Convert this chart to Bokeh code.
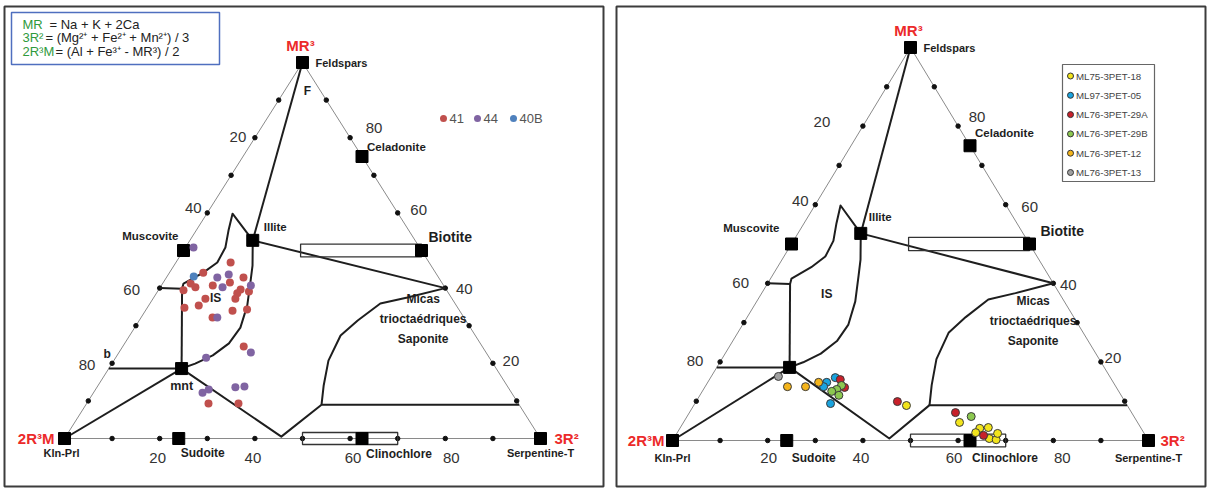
import numpy as np
from bokeh.plotting import figure
from bokeh.models import Range1d
from bokeh.embed import file_html
from bokeh.resources import INLINE
from bokeh.core.properties import value

FONT = value("Liberation Sans")

# ---------------- data: ternary compositions in % (MR3, 3R2); 2R3M = 100 - MR3 - 3R2
mineral_names = ["Feldspars", "Celadonite", "Muscovite", "Illite", "Biotite",
                 "mnt", "Kln-Prl", "Sudoite", "Clinochlore", "Serpentine-T"]
mineral_mr3 = [100, 75, 50, 52.7, 50, 18.6, 0, 0, 0, 0]
mineral_3r2 = [0, 25, 0, 13.2, 50, 15.3, 0, 24, 62.5, 100]

edge_ticks = [10, 20, 30, 40, 50, 60, 70, 80, 90]
edge_labels = [20, 40, 60, 80]

# field boundaries
f_line_mr3 = [100, 52.7]
f_line_3r2 = [0, 13.2]
illite_tie_mr3 = [52.7, 40]
illite_tie_3r2 = [13.2, 60]
is_top_mr3 = [40, 39.8, 41.2, 44.1, 46.8, 50.8, 55.3, 59.8, 52.7]
is_top_3r2 = [0, 4.8, 4.4, 7.1, 8.7, 8.4, 6.8, 5.4, 13.2]
is_side_mr3 = [52.7, 46.0, 42.0, 35.4, 29.5, 25.3, 22.1, 19.9, 18.6]
is_side_3r2 = [13.2, 16.5, 18.1, 20.7, 22.2, 21.9, 20.1, 17.5, 15.3]
mnt_vert_mr3 = [39.8, 18.6]
mnt_vert_3r2 = [4.8, 15.3]
mnt_b_mr3 = [18.6, 18.6]
mnt_b_3r2 = [15.3, 0]
mnt_kln_mr3 = [18.6, 0]
mnt_kln_3r2 = [15.3, 0]
chlorite_mr3 = [18.6, 0.5, 9.0, 9.0]
chlorite_3r2 = [15.3, 45.3, 49.5, 91.0]
micas_mr3 = [9.0, 14.1, 20.7, 27.4, 31.4, 35.9, 37.5, 40]
micas_3r2 = [49.5, 47.4, 45.1, 44.3, 45.9, 48.4, 53.3, 60]

# composition boxes (MR3 centre, 3R2 from, 3R2 to, MR3 half-height)
box_mr3 = [50, 0]
box_3r2_from = [24.6, 50]
box_3r2_to = [50, 70]
box_half = [1.7, 1.6]

# left diagram samples
s41_mr3 = [46.8, 44.1, 42.8, 41.2, 40.2, 40.7, 41.5, 39.4, 39.6, 38.6, 39.1,
           37.2, 37.2, 34.8, 35.4, 34.0, 34.3, 32.2, 24.5, 9.3, 9.3]
s41_3r2 = [11.5, 7.1, 16.2, 5.9, 7.4, 10.8, 14.0, 5.3, 17.2, 17.0, 19.2,
           11.0, 17.3, 7.8, 10.5, 18.3, 21.2, 15.0, 25.4, 25.6, 31.9]
s44_mr3 = [50.8, 42.8, 43.6, 40.2, 40.7, 32.2, 22.9, 21.5, 12.2, 13.0, 13.6, 13.8]
s44_3r2 = [1.7, 10.7, 12.7, 13.1, 18.8, 16.0, 27.7, 19.0, 22.9, 23.8, 29.1, 30.9]
s40b_mr3 = [43.1]
s40b_3r2 = [5.6]

# right diagram samples
ml75_18_mr3 = [8.9, 4.6, 3.1, 3.3, 2.0, 0.5, 0.2, 1.8]
ml75_18_3r2 = [44.7, 58.0, 63.0, 64.7, 62.7, 66.3, 67.9, 67.4]
ml97_05_mr3 = [14.8, 13.7, 16.0, 9.4]
ml97_05_3r2 = [25.0, 24.9, 26.2, 28.5]
ml76_29a_mr3 = [15.5, 13.5, 9.9, 7.1, 1.3]
ml76_29a_3r2 = [27.5, 29.4, 42.3, 55.9, 64.7]
ml76_29b_mr3 = [14.0, 13.0, 12.5, 11.5, 6.1]
ml76_29b_3r2 = [28.5, 28.0, 27.2, 29.2, 59.7]
ml76_12_mr3 = [13.7, 13.7, 14.8]
ml76_12_3r2 = [17.3, 21.1, 23.3]
ml76_13_mr3 = [16.3]
ml76_13_3r2 = [14.1]

left_names = ["41", "44", "40B"]
left_colors = ["#c0504d", "#8064a2", "#4f81bd"]
right_names = ["ML75-3PET-18", "ML97-3PET-05", "ML76-3PET-29A",
               "ML76-3PET-29B", "ML76-3PET-12", "ML76-3PET-13"]
right_colors = ["#f2e41c", "#1aa3de", "#c8202a", "#8cc850", "#f4b41a", "#a0a0a0"]

# ---------------- layout
LEFT = dict(x0=64, y0=438, W=476, H=376)
RIGHT = dict(x0=672, y0=440, W=476, H=393)

p = figure(width=1208, height=488, x_range=Range1d(0, 1208), y_range=Range1d(488, 0),
           output_backend="svg", toolbar_location=None, min_border=0,
           x_axis_location=None, y_axis_location=None)
p.grid.visible = False
p.outline_line_color = None
p.background_fill_color = "white"
p.border_fill_color = "white"

INK = "#1e1e1e"
RED = "#ec2a2a"


def tern(pn, mr3, r32):
    m = np.asarray(mr3, dtype=float) / 100.0
    r = np.asarray(r32, dtype=float) / 100.0
    return pn["x0"] + pn["W"] * (r + m / 2.0), pn["y0"] - pn["H"] * m


def line(pn, mr3, r32, width=2.0, color=INK):
    x, y = tern(pn, mr3, r32)
    p.line(list(x), list(y), line_width=width, line_color=color, line_join="round")


def label(pn, mr3, r32, text, dx=0, dy=0, size="12px", bold=True, color=INK, align="left"):
    x, y = tern(pn, [mr3], [r32])
    p.text(x=list(x), y=list(y), text=[text], x_offset=dx, y_offset=dy,
           text_font=FONT, text_font_size=size,
           text_font_style="bold" if bold else "normal",
           text_color=color, text_align=align, text_baseline="middle")


def idx(name):
    return mineral_names.index(name)


def diagram(pn, tick_off, lab_off, extra, samples, outline):
    # triangle edges
    line(pn, [100, 0, 0, 100], [0, 0, 100, 0], width=1.0, color="#8a8a8a")
    # tick dots
    t = np.array(edge_ticks, dtype=float)
    for mm, rr in [(100 - t, 0 * t), (t, 100 - t), (0 * t, t)]:
        x, y = tern(pn, mm, rr)
        p.scatter(list(x), list(y), size=4.5, color="#111111")
    # field boundaries
    for mm, rr in [(f_line_mr3, f_line_3r2), (illite_tie_mr3, illite_tie_3r2),
                   (is_top_mr3, is_top_3r2), (is_side_mr3, is_side_3r2),
                   (mnt_vert_mr3, mnt_vert_3r2), (mnt_b_mr3, mnt_b_3r2),
                   (mnt_kln_mr3, mnt_kln_3r2), (chlorite_mr3, chlorite_3r2),
                   (micas_mr3, micas_3r2)]:
        line(pn, mm, rr)
    # composition boxes
    for bm, b0, b1, bh in zip(box_mr3, box_3r2_from, box_3r2_to, box_half):
        xl, _ = tern(pn, [bm], [b0])
        xr, _ = tern(pn, [bm], [b1])
        _, yt = tern(pn, [bm + bh], [0])
        _, yb = tern(pn, [bm - bh], [0])
        p.quad(left=list(xl), right=list(xr), top=list(yt), bottom=list(yb),
               fill_color=None, line_color="#333333", line_width=1.3)
    # mineral squares
    x, y = tern(pn, mineral_mr3, mineral_3r2)
    p.scatter(list(x), list(y), marker="square", size=12, color="#000000")
    # samples
    for (mm, rr), col in samples:
        x, y = tern(pn, mm, rr)
        if outline:
            p.scatter(list(x), list(y), size=8, fill_color=col, line_color="#3a3a3a", line_width=1)
        else:
            p.scatter(list(x), list(y), size=8, fill_color=col, line_color=None)
    # tick labels
    for i, v in enumerate(edge_labels):
        dx, dy = tick_off["left"][i]
        label(pn, 100 - v, 0, str(v), dx, dy, size="15px", bold=False, color="#333333", align="center")
        dx, dy = tick_off["right"][i]
        label(pn, v, 100 - v, str(v), dx, dy, size="15px", bold=False, color="#333333", align="center")
        dx, dy = tick_off["bottom"][i]
        label(pn, 0, v, str(v), dx, dy, size="15px", bold=False, color="#333333", align="center")
    # vertex / mineral labels
    for name, (dx, dy, size, align) in lab_off.items():
        i = idx(name)
        label(pn, mineral_mr3[i], mineral_3r2[i], name, dx, dy, size=size, align=align)
    i = idx("Feldspars")
    label(pn, mineral_mr3[i], mineral_3r2[i], "MR³", extra["MR3"][0], extra["MR3"][1], size="15px", color=RED, align="center")
    i = idx("Kln-Prl")
    label(pn, mineral_mr3[i], mineral_3r2[i], "2R³M", extra["2R3M"][0], extra["2R3M"][1], size="15px", color=RED, align="right")
    i = idx("Serpentine-T")
    label(pn, mineral_mr3[i], mineral_3r2[i], "3R²", extra["3R2"][0], extra["3R2"][1], size="15px", color=RED, align="left")
    label(pn, extra["IS"][0], extra["IS"][1], "IS", 0, 0, size="12px", align="center")
    mm, rr = extra["micas"]
    for k, txt in enumerate(["Micas", "trioctaédriques", "Saponite"]):
        label(pn, mm, rr, txt, 0, -20 + 20 * k, size="12px", align="center")


# panel frames
p.quad(left=[4], right=[603], top=[6], bottom=[486], fill_color=None, line_color="#3c3c3c", line_width=2)
p.quad(left=[616], right=[1205], top=[6], bottom=[486], fill_color=None, line_color="#3c3c3c", line_width=2)

left_samples = [((s41_mr3, s41_3r2), left_colors[0]), ((s44_mr3, s44_3r2), left_colors[1]),
                ((s40b_mr3, s40b_3r2), left_colors[2])]
right_samples = [((ml75_18_mr3, ml75_18_3r2), right_colors[0]),
                 ((ml97_05_mr3, ml97_05_3r2), right_colors[1]),
                 ((ml76_29a_mr3, ml76_29a_3r2), right_colors[2]),
                 ((ml76_29b_mr3, ml76_29b_3r2), right_colors[3]),
                 ((ml76_12_mr3, ml76_12_3r2), right_colors[4]),
                 ((ml76_13_mr3, ml76_13_3r2), right_colors[5])]

left_lab = {"Feldspars": (13, 0, "11px", "left"), "Celadonite": (5, -10, "11.5px", "left"),
            "Muscovite": (-5, -15, "11.5px", "right"), "Illite": (11, -13, "11.5px", "left"),
            "Biotite": (7, -14, "14px", "left"), "Kln-Prl": (-3, 14, "11px", "center"),
            "Sudoite": (2, 14, "12px", "left"), "Clinochlore": (4, 15, "12px", "left"),
            "Serpentine-T": (0, 14, "11px", "center")}
left_ticks = {"left": [(-17, -1), (-14, -5), (-28, 2), (-25, 2)],
              "right": [(18, -2), (19, 1), (21, -3), (24, -10)],
              "bottom": [(-2, 19), (-2, 19), (3, 19), (6, 19)]}
left_extra = {"MR3": (-2, -17), "2R3M": (-10, 0), "3R2": (14, 0),
              "IS": (37.5, 13.0), "micas": (31.9, 59.4)}
diagram(LEFT, left_ticks, left_lab, left_extra, left_samples, outline=False)
label(LEFT, 100, 0, "F", 5, 28, size="12px", align="center")
label(LEFT, 20, 0, "b", -5, -9, size="12px", align="center")
label(LEFT, mineral_mr3[idx("mnt")], mineral_3r2[idx("mnt")], "mnt", 0, 17, size="12.5px", align="center")

right_lab = {"Feldspars": (13, 0, "11px", "left"), "Celadonite": (5, -13, "11.5px", "left"),
             "Muscovite": (-12, -16, "11.5px", "right"), "Illite": (8, -16, "11.5px", "left"),
             "Biotite": (11, -13, "14px", "left"), "Kln-Prl": (0, 17, "11px", "center"),
             "Sudoite": (5, 17, "12px", "left"), "Clinochlore": (2, 17, "12px", "left"),
             "Serpentine-T": (0, 17, "11px", "center")}
right_ticks = {"left": [(-41, -4), (-15, -4), (-27, 0), (-25, -1)],
               "right": [(12, -4), (15, 2), (24, 2), (19, -9)],
               "bottom": [(1, 17), (-2, 17), (-4, 17), (9, 17)]}
right_extra = {"MR3": (-2, -17), "2R3M": (-8, 0), "3R2": (12, 0),
               "IS": (37.4, 13.7), "micas": (30.5, 60.5)}
diagram(RIGHT, right_ticks, right_lab, right_extra, right_samples, outline=True)

# formula box (left panel)
p.quad(left=[11], right=[219], top=[12], bottom=[64], fill_color=None, line_color="#4f6fbf", line_width=1.5)
GREEN = "#2f9a3c"
formula_rows = [("MR", "= Na + K + 2Ca", 49), ("3R²", "= (Mg²⁺ + Fe²⁺ + Mn²⁺) / 3", 45),
                ("2R³M", "= (Al + Fe³⁺ - MR³) / 2", 55)]
for k, (g, rest, xr) in enumerate(formula_rows):
    yy = 23.5 + 13.5 * k
    p.text(x=[22], y=[yy], text=[g], text_font=FONT, text_font_size="13px",
           text_color=GREEN, text_baseline="middle")
    p.text(x=[xr], y=[yy], text=[rest], text_font=FONT, text_font_size="13px",
           text_color="#222222", text_baseline="middle")

# left legend
lx = [443, 477, 513]
for k in range(3):
    p.scatter([lx[k]], [118], size=7, fill_color=left_colors[k], line_color=None)
    p.text(x=[lx[k] + 6], y=[118], text=[left_names[k]], text_font=FONT, text_font_size="13px",
           text_color="#555555", text_baseline="middle")

# right legend
p.quad(left=[1062], right=[1154], top=[64], bottom=[181], fill_color=None, line_color="#666666", line_width=1.2)
for k in range(6):
    yy = 75.5 + 19.3 * k
    p.scatter([1070], [yy], size=6, fill_color=right_colors[k], line_color="#333333", line_width=1)
    p.text(x=[1075.5], y=[yy], text=[right_names[k]], text_font=FONT, text_font_size="9.7px",
           text_color="#444444", text_baseline="middle")

open("out.html", "w").write(file_html(p, INLINE))
